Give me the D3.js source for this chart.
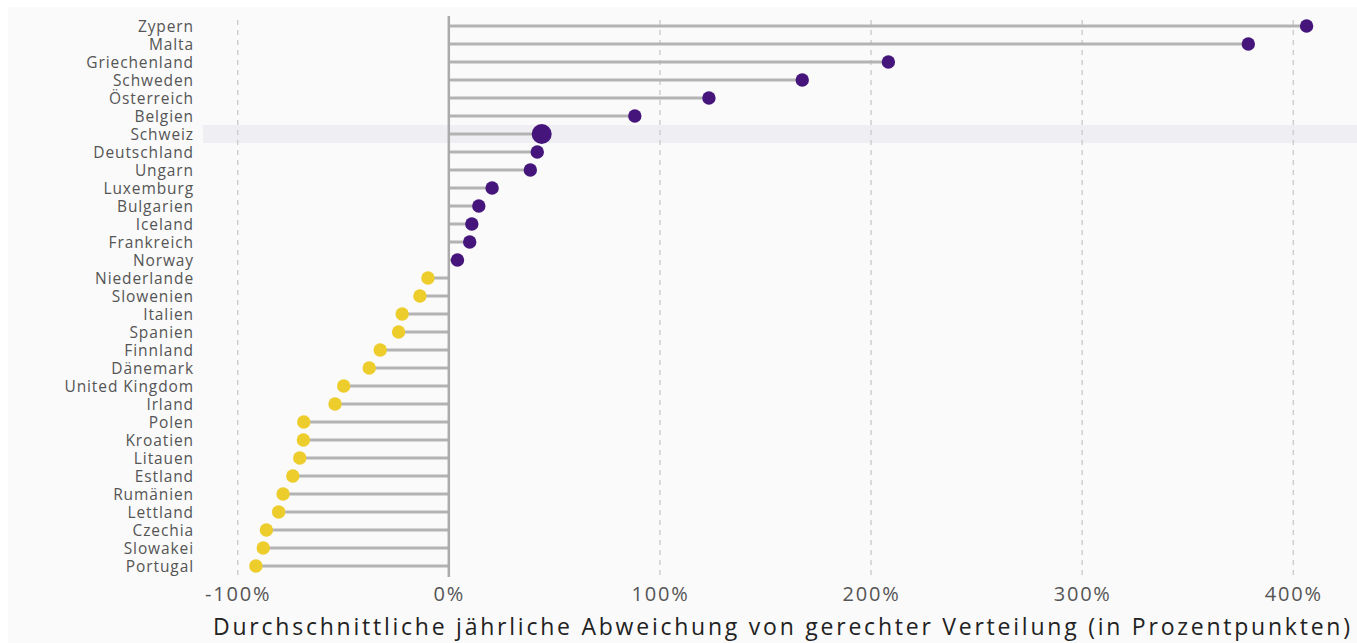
<!DOCTYPE html>
<html><head><meta charset="utf-8">
<script src="https://cdn.jsdelivr.net/npm/d3@7"></script>
<style>
html,body{margin:0;padding:0;background:#fff;}
svg{display:block;}
</style></head>
<body>
<svg id="chart" width="1357" height="643"></svg>
<script>
const countries = ["Zypern","Malta","Griechenland","Schweden","Österreich","Belgien","Schweiz","Deutschland","Ungarn","Luxemburg","Bulgarien","Iceland","Frankreich","Norway","Niederlande","Slowenien","Italien","Spanien","Finnland","Dänemark","United Kingdom","Irland","Polen","Kroatien","Litauen","Estland","Rumänien","Lettland","Czechia","Slowakei","Portugal"];
const values = [406.3,378.7,208.2,167.4,123.2,88.1,44.0,41.9,38.6,20.5,14.2,10.9,9.9,4.1,-9.9,-13.7,-22.1,-23.8,-32.5,-37.7,-49.8,-53.9,-68.7,-68.9,-70.6,-73.9,-78.5,-80.6,-86.4,-87.9,-91.4];
const highlight = "Schweiz";
const xTicks = [-100,0,100,200,300,400];
const xTitle = "Durchschnittliche jährliche Abweichung von gerechter Verteilung (in Prozentpunkten)";

const svg = d3.select("#chart");
const W = 1357, H = 643;
const font = "'Open Sans', 'Noto Sans', sans-serif";

svg.append("rect").attr("x",8).attr("y",7).attr("width",W-8).attr("height",H-7).attr("fill","#fafafa");

const x = d3.scaleLinear().domain([-100,400]).range([237.7,1293.3]);
const y = d3.scalePoint().domain(countries).range([26,566]);
const step = y.step();

// highlight band
svg.append("rect").attr("x",203).attr("y",y(highlight)-step/2).attr("width",W-203).attr("height",step).attr("fill","#efeef3");

// grid lines
svg.append("g").selectAll("line").data(xTicks.filter(d=>d!==0)).join("line")
  .attr("x1",d=>x(d)).attr("x2",d=>x(d)).attr("y1",20).attr("y2",577)
  .attr("stroke","#cfcfcf").attr("stroke-width",1.5).attr("stroke-dasharray","5,5");

// stems
svg.append("g").selectAll("line").data(countries).join("line")
  .attr("x1",x(0)).attr("x2",(d,i)=>x(values[i])).attr("y1",d=>y(d)).attr("y2",d=>y(d))
  .attr("stroke","#b3b3b3").attr("stroke-width",3);

// zero line
svg.append("line").attr("x1",x(0)).attr("x2",x(0)).attr("y1",16).attr("y2",577)
  .attr("stroke","#ababab").attr("stroke-width",2.5);

// dots
svg.append("g").selectAll("circle").data(countries).join("circle")
  .attr("cx",(d,i)=>x(values[i])).attr("cy",d=>y(d))
  .attr("r",d=>d===highlight?10:6.7)
  .attr("fill",(d,i)=>values[i]>=0?"#45157c":"#eccd2c");

// category labels
svg.append("g").selectAll("text").data(countries).join("text")
  .attr("x",194).attr("y",d=>y(d)).attr("dy","0.36em").attr("text-anchor","end")
  .attr("font-family",font).attr("font-size",15.5).attr("letter-spacing","0.9px")
  .attr("fill","#555").text(d=>d);

// x axis
const xAxis = d3.axisBottom(x).tickValues(xTicks).tickFormat(d=>d+"%").tickSize(0).tickPadding(0);
const gx = svg.append("g").attr("transform","translate(0,587)").call(xAxis);
gx.select(".domain").remove();
gx.selectAll("text").attr("font-family",font).attr("font-size",20).attr("letter-spacing","1.8px")
  .attr("fill","#555").attr("dy","0.72em");

// title
svg.append("text").attr("x",1350).attr("y",635).attr("text-anchor","end")
  .attr("font-family",font).attr("font-size",23).attr("fill","#222")
  .attr("textLength",1137).attr("lengthAdjust","spacing").text(xTitle);
</script>
</body></html>
